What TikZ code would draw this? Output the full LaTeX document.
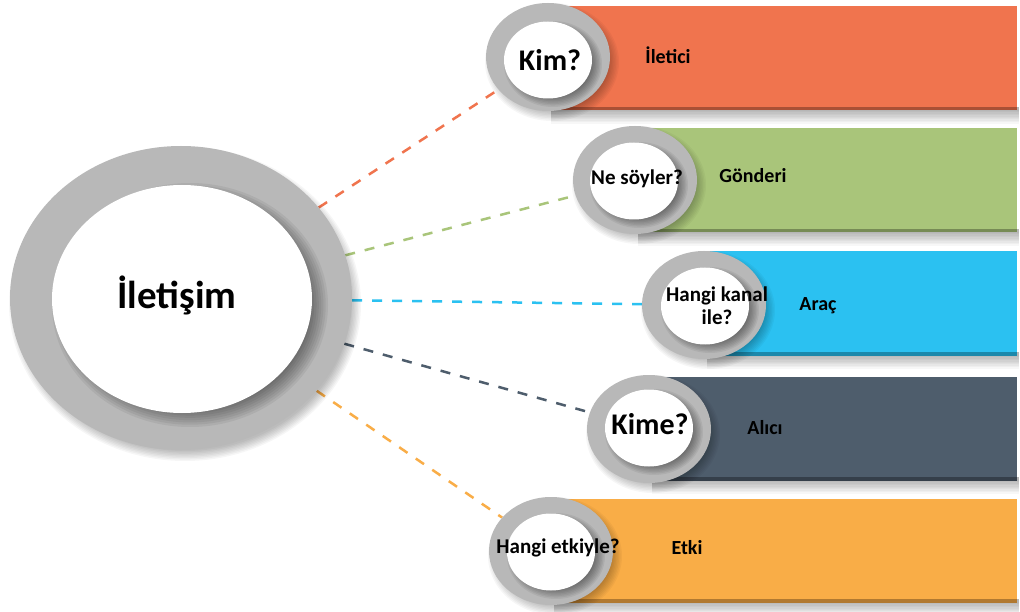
\documentclass[tikz,border=0pt]{standalone}
\usepackage{fontspec}
\setmainfont{Carlito}
\usetikzlibrary{shapes.geometric}
\definecolor{cOrange}{HTML}{F0744E}
\definecolor{cGreen}{HTML}{A9C57A}
\definecolor{cBlue}{HTML}{2BC1F1}
\definecolor{cSlate}{HTML}{4E5D6C}
\definecolor{cYellow}{HTML}{F9AD47}
\definecolor{ringgray}{HTML}{B8B8B8}
\pgfdeclarelayer{bg}
\pgfdeclarelayer{paper}
\pgfsetlayers{paper,bg,main}
% soft elliptic shadow: x, y, rx, ry, spread, opacity per layer
\newcommand\ellshadow[6]{%
  \foreach \k in {0,...,7}{%
    \fill[black, fill opacity=#6] (#1,#2) ellipse [x radius={#3+#5-\k*#5/3.5}, y radius={#4+#5-\k*#5/3.5}];}}
% soft shadow under a bar: x1, x2, ybottom
\newcommand\barshadow[3]{%
  \foreach \k in {0,...,9}{%
    \fill[black, fill opacity=0.033] (#1+3,#3-3) rectangle (#2+2,#3+1+1.4*\k);}}
\begin{document}
\begin{tikzpicture}[x=1pt,y=-1pt,
  bar/.style={rectangle, minimum height=104pt, inner sep=0pt},
  ring/.style={ellipse, fill=ringgray, minimum width=124pt, minimum height=108pt, inner sep=0pt},
  hole/.style={ellipse, fill=white, minimum width=88pt, minimum height=77pt, inner sep=0pt},
  q/.style={font=\bfseries\fontsize{21}{22}\selectfont, align=center, inner sep=0pt},
  qbig/.style={font=\bfseries\fontsize{30}{31}\selectfont, inner sep=0pt},
  lab/.style={font=\bfseries\fontsize{20}{22}\selectfont, inner sep=0pt},
  conn/.style={dash pattern=on 10pt off 10pt, line width=2.5pt}]
\useasboundingbox (0,0) rectangle (1020,612);
\begin{pgfonlayer}{paper}
\fill[white] (0,0) rectangle (1020,612);
\end{pgfonlayer}

% central circle
\ellshadow{185}{304}{171}{152}{5}{0.035}
\node[ellipse, fill=ringgray, minimum width=342pt, minimum height=304pt, inner sep=0pt] (big) at (181,298) {};
\ellshadow{190}{305}{130}{114}{8}{0.06}
\node[ellipse, fill=white, minimum width=260pt, minimum height=228pt, inner sep=0pt] (bighole) at (182,299) {};
\node[font=\bfseries\fontsize{39}{40}\selectfont, inner sep=0pt] (title) at (177,295) {İletişim};

% bar 1
\node[bar, fill=cOrange, minimum width=469pt] (b1) at (782.5,58) {};
\barshadow{548}{1017}{110}
\ellshadow{552}{62}{62}{54}{5}{0.035}
\node[ring] (r1) at (548,57) {};
\ellshadow{553}{64}{44}{38}{5}{0.06}
\node[hole] (h1) at (548,60) {};
\node[qbig] (t1) at (550,60) {Kim?};
\node[lab] (l1) at (668,55) {İletici};

% bar 2
\node[bar, fill=cGreen, minimum width=382pt] (b2) at (826,180) {};
\barshadow{635}{1017}{232}
\ellshadow{639}{185}{62}{54}{5}{0.035}
\node[ring] (r2) at (635,180) {};
\ellshadow{639}{185}{44}{38}{5}{0.06}
\node[hole] (h2) at (634,181) {};
\node[q] (t2) at (637,179) {Ne söyler?};
\node[lab] (l2) at (753,176) {Gönderi};

% bar 3
\node[bar, fill=cBlue, minimum width=313pt] (b3) at (860.5,303.5) {};
\barshadow{704}{1017}{355}
\ellshadow{708}{310}{62}{54}{5}{0.035}
\node[ring] (r3) at (704,305) {};
\ellshadow{710}{310}{44}{38}{5}{0.06}
\node[hole] (h3) at (705,306) {};
\node[q, font=\bfseries\fontsize{21}{23}\selectfont] (t3) at (717,306) {Hangi kanal\\ile?};
\node[lab] (l3) at (818,306) {Araç};

% bar 4
\node[bar, fill=cSlate, minimum width=368pt] (b4) at (833,428.5) {};
\barshadow{649}{1017}{480}
\ellshadow{653}{434}{62}{54}{5}{0.035}
\node[ring] (r4) at (649,429) {};
\ellshadow{654}{432}{44}{38}{5}{0.06}
\node[hole] (h4) at (649,428) {};
\node[qbig] (t4) at (650,424) {Kime?};
\node[lab] (l4) at (765,428) {Alıcı};

% bar 5
\node[bar, fill=cYellow, minimum width=466pt] (b5) at (784,551) {};
\barshadow{551}{1017}{602}
\ellshadow{555}{556}{62}{54}{5}{0.035}
\node[ring] (r5) at (551,551) {};
\ellshadow{556}{556}{44}{38}{5}{0.06}
\node[hole] (h5) at (551,552) {};
\node[q] (t5) at (558,548) {Hangi etkiyle?};
\node[lab] (l5) at (687,548) {Etki};

% connectors
\begin{pgfonlayer}{bg}
\draw[conn, cOrange] (big) -- (r1);
\draw[conn, cGreen] (big) -- (r2);
\draw[conn, cBlue] (big) -- (r3);
\draw[conn, cSlate] (big) -- (r4);
\draw[conn, cYellow] (big) -- (r5);
\end{pgfonlayer}
\end{tikzpicture}
\end{document}
